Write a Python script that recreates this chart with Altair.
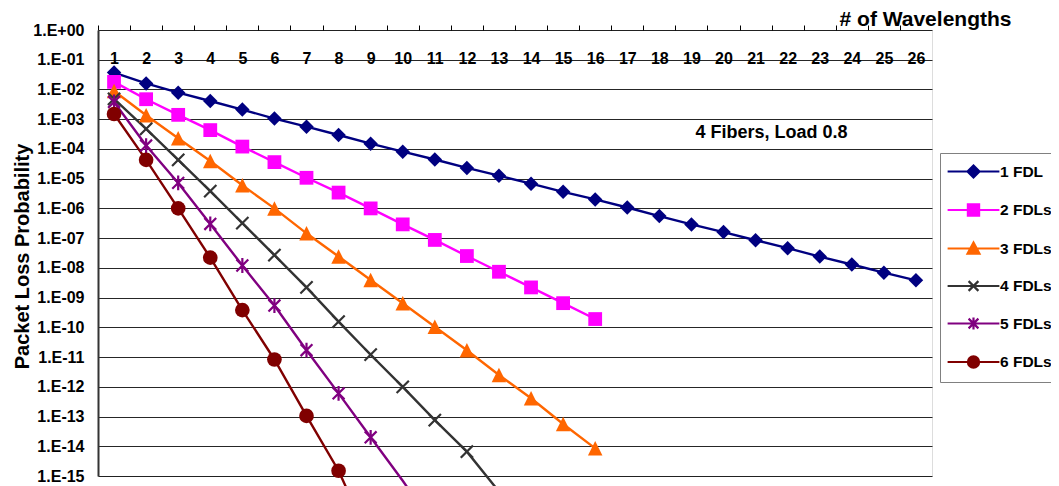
import altair as alt
import pandas as pd

# ---------------- data ----------------
x_wavelengths = list(range(1, 27))
series_names = ["1 FDL", "2 FDLs", "3 FDLs", "4 FDLs", "5 FDLs", "6 FDLs"]

fdl1 = [3.7e-2, 1.6e-2, 7.8e-3, 4.1e-3, 2.1e-3, 1.05e-3, 5.6e-4, 2.95e-4, 1.5e-4, 8.1e-5,
        4.4e-5, 2.3e-5, 1.26e-5, 6.8e-6, 3.6e-6, 2.0e-6, 1.07e-6, 5.5e-7, 2.9e-7, 1.6e-7,
        8.5e-8, 4.6e-8, 2.4e-8, 1.3e-8, 6.9e-9, 3.8e-9]
fdl2 = [1.8e-2, 4.7e-3, 1.4e-3, 4.3e-4, 1.2e-4, 3.6e-5, 1.07e-5, 3.4e-6, 1.0e-6, 2.9e-7,
        8.7e-8, 2.5e-8, 7.4e-9, 2.2e-9, 6.5e-10, 1.9e-10]
fdl3 = [8.9e-3, 1.35e-3, 2.3e-4, 3.9e-5, 6.0e-6, 1.0e-6, 1.45e-7, 2.4e-8, 3.9e-9, 6.5e-10,
        1.05e-10, 1.7e-11, 2.5e-12, 4.1e-13, 5.6e-14, 8.5e-15]
fdl4 = [4.8e-3, 4.7e-4, 4.3e-5, 3.8e-6, 3.2e-7, 2.7e-8, 2.2e-9, 1.55e-10, 1.2e-11, 1.0e-12,
        7.6e-14, 6.6e-15, 3.0e-16]
fdl5 = [3.8e-3, 1.3e-4, 7.2e-6, 3.0e-7, 1.2e-8, 5.4e-10, 1.7e-11, 6.0e-13, 2.0e-14, 6.9e-16,
        2.0e-17]
fdl6 = [1.5e-3, 4.3e-5, 1.0e-6, 2.2e-8, 3.8e-10, 8.3e-12, 1.05e-13, 1.5e-15, 6.3e-18]

series_values = [fdl1, fdl2, fdl3, fdl4, fdl5, fdl6]
series_colors = ["#000080", "#FF00FF", "#FF6600", "#333333", "#800080", "#800000"]

y_tick_values = [1e0, 1e-1, 1e-2, 1e-3, 1e-4, 1e-5, 1e-6, 1e-7, 1e-8, 1e-9,
                 1e-10, 1e-11, 1e-12, 1e-13, 1e-14, 1e-15]
y_min, y_max = 1e-15, 1e0

annotation_text = ["4 Fibers, Load 0.8"]
annotation_x = [21.5]
annotation_y = [3.4e-4]

# ---------------- styles ----------------
FONT = "Liberation Sans"
marker_shapes = ["diamond", "square", "M0,-1L1,1L-1,1Z",
                 "M-1,-1L1,1M-1,1L1,-1",
                 "M-1,-1L1,1M-1,1L1,-1M0,-1.25L0,1.25",
                 "circle"]
marker_filled = [True, True, True, False, False, True]
marker_sizes = [210, 190, 210, 150, 140, 215]
legend_paths = [
    "M-3.7,0H3.7M0,-0.85L0.85,0L0,0.85L-0.85,0Z",
    "M-3.7,0H3.7M-0.8,-0.8H0.8V0.8H-0.8Z",
    "M-3.7,0H3.7M0,-0.85L0.85,0.75L-0.85,0.75Z",
    "M-3.7,0H3.7M-0.7,-0.7L0.7,0.7M-0.7,0.7L0.7,-0.7",
    "M-3.7,0H3.7M-0.7,-0.7L0.7,0.7M-0.7,0.7L0.7,-0.7M0,-0.85V0.85",
    "M-3.7,0H3.7M0.8,0A0.8,0.8 0 1,1 -0.8,0A0.8,0.8 0 1,1 0.8,0Z",
]

rows = []
for name, vals, col in zip(series_names, series_values, series_colors):
    for i, v in enumerate(vals):
        rows.append({"series": name, "x": x_wavelengths[i], "y": v, "hex": col})
df = pd.DataFrame(rows)

label_expr = ("'1.E' + (datum.value >= 1 ? '+00' : '-' + "
              "(round(-log(datum.value)/LN10) < 10 ? '0' : '') + round(-log(datum.value)/LN10))")

x_enc = alt.X(
    "x:Q",
    scale=alt.Scale(domain=[0.5, 26.5], nice=False, zero=False),
    axis=alt.Axis(
        orient="top", values=x_wavelengths, format="d",
        title="# of Wavelengths", titleFont=FONT, titleFontSize=21, titleFontWeight="bold",
        titleColor="black", titleX=827, titleY=-11, titleAlign="center", titleBaseline="middle",
        labelFont=FONT, labelFontSize=16, labelFontWeight="bold", labelColor="black",
        labelPadding=-33, labelBaseline="middle", labelAngle=0, labelFlush=False,
        labelOverlap=False, labelOffset=16.04,
        ticks=True, tickSize=5, tickColor="black", tickWidth=1, tickOffset=-16.04,
        domain=False, grid=False,
    ),
)
y_enc = alt.Y(
    "y:Q",
    scale=alt.Scale(type="log", domain=[y_min, y_max], nice=False),
    axis=alt.Axis(
        values=y_tick_values, labelExpr=label_expr,
        labelFont=FONT, labelFontSize=16, labelFontWeight="bold", labelColor="black",
        labelPadding=14, labelFlush=False, labelOverlap=False,
        ticks=False, grid=True, gridColor="#000000", gridWidth=1, gridOpacity=0.85,
        domain=True, domainColor="#333333", domainWidth=2,
        title="Packet Loss Probability", titleFont=FONT, titleFontSize=20,
        titleFontWeight="bold", titleColor="black", titleX=-76, titleY=226,
        titleAngle=270, titleAlign="center", titleBaseline="middle",
    ),
)

base = alt.Chart(df)

lines = base.mark_line(strokeWidth=2.4, clip=False).encode(
    x=x_enc, y=y_enc,
    color=alt.Color("hex:N", scale=None),
    detail="series:N",
)

layers = [lines]
for name, col, shp, filled, size in zip(series_names, series_colors, marker_shapes,
                                          marker_filled, marker_sizes):
    m = base.transform_filter(
        (alt.datum.series == name) & (alt.datum.y >= y_min)
    ).mark_point(
        shape=shp, filled=filled, size=size, color=col, opacity=1,
        strokeWidth=2.2 if not filled else 0.5,
    ).encode(x=x_enc, y=y_enc)
    layers.append(m)

leg = alt.Legend(
    title=None, orient="none", legendX=842, legendY=123,
    padding=10, symbolSize=196, symbolStrokeWidth=2.2, symbolOffset=15,
    labelOffset=18, labelFont=FONT, labelFontSize=15.5, labelFontWeight="bold",
    labelColor="black", rowPadding=17.5, strokeColor="#808080", fillColor="white",
    symbolOpacity=1,
)
carrier = base.transform_filter(alt.datum.x == 1).mark_point(
    size=0, filled=True, clip=True
).encode(
    x=x_enc, y=y_enc,
    fill=alt.Fill("series:N", scale=alt.Scale(domain=series_names, range=series_colors), legend=leg),
    stroke=alt.Stroke("series:N", scale=alt.Scale(domain=series_names, range=series_colors), legend=leg),
    shape=alt.Shape("series:N", scale=alt.Scale(domain=series_names, range=legend_paths), legend=leg),
)
layers.append(carrier)

ann_df = pd.DataFrame({"x": annotation_x, "y": annotation_y, "t": annotation_text})
ann = alt.Chart(ann_df).mark_text(
    font=FONT, fontSize=18, fontWeight="bold", color="black"
).encode(x=x_enc, y=y_enc, text="t:N")
layers.append(ann)

chart = alt.layer(*layers).properties(
    width=834, height=446,
    padding={"left": 90, "top": 22, "right": 119, "bottom": 10},
    autosize=alt.AutoSizeParams(type="none"),
).configure_view(stroke="#808080", strokeWidth=2).configure(font=FONT)

chart.save("out.html", embed_options={"renderer": "svg", "actions": False})
